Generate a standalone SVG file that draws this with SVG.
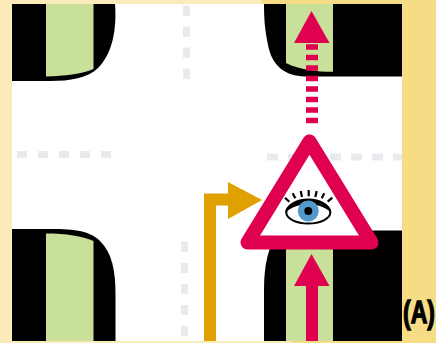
<svg xmlns="http://www.w3.org/2000/svg" width="436" height="343" viewBox="0 0 436 343">
<style>
.road{fill:#000}
.grass{fill:#C9E09A}
.lane{stroke:#E8EBEE;stroke-width:7;fill:none}
.red{fill:#E00050}
.redl{stroke:#E00050;fill:none}
.org{fill:#E0A000}
.lash{stroke:#000;stroke-width:2.200;stroke-linecap:butt}
</style>
<rect width="436" height="343" fill="#fff"/>
<g id="background">
<path d="M0 0H262V4H12V341H292V343H0Z" fill="#FAEBB8"/>
<path d="M262 0H436V343H292V341H402V4H262Z" fill="#F6DC85"/>
</g>
<g id="lanes">
<path class="lane" d="M186.500 5.500V16M186.500 26.500V37M186.500 47.500V58M186.500 68.500V79"/>
<path class="lane" d="M17 154.500H27M38 154.500H48M59 154.500H69M80 154.500H90M101 154.500H111"/>
<path class="lane" d="M267 157H278M288 157H299M330 157H341M351 157H362M372 157H383M393 157H402"/>
<path class="lane" d="M184.500 241.500V252M184.500 263V273M184.500 284V294M184.500 305V315M184.500 326V336"/>
</g>
<g id="corner-top-left">
<path class="road" d="M12 4H115C117 30 112 54 98 68C88 78 70 81 50 81H12Z"/>
<path class="grass" d="M46 4H93.500V69C82 74 64 76 46 76.500Z"/>
</g>
<g id="corner-top-right">
<path class="road" d="M264 4H402V76.500H305C285 76 272 66 268 45C265 30 264 20 264 4Z"/>
<path class="grass" d="M286 4H333V71.800C316 71.800 300 70 286 63Z"/>
</g>
<g id="corner-bottom-left">
<path class="road" d="M12 229H55C80 229 92 233 100 241C112 253 115.500 270 115.500 295V341H12Z"/>
<path class="grass" d="M46 233.500C66 233.500 82 236 93.500 241V341H46Z"/>
</g>
<g id="corner-bottom-right">
<path class="road" d="M402 230.500V341H264V290C264 265 268 245 280 230.500Z"/>
<path class="grass" d="M286 235H333V341H286Z"/>
</g>
<g id="connectors">
<path class="redl" stroke-width="12" stroke-dasharray="5.500 5" d="M312 123.200V44"/>
<path class="red" d="M311.500 11L329.500 43H294Z"/>
<path class="redl" stroke-width="12" d="M312 341V285"/>
<path class="red" d="M311.500 254L329.500 286H294Z"/>
<path d="M210 341V199.500H230" fill="none" stroke="#E0A000" stroke-width="12"/>
<path class="org" d="M228 182L262 200L228 219Z"/>
</g>
<g id="warning-sign">
<path d="M309.500 141.400L371.500 242.500H247.500Z" fill="#fff" stroke="#E00050" stroke-width="14" stroke-linejoin="round"/>
<g id="eye">
<ellipse cx="308.300" cy="212.500" rx="22" ry="11" fill="#fff" stroke="#000" stroke-width="2"/>
<path d="M285 213C286 204 296 198.500 308.300 198.500C320.500 198.500 330.500 204 331.500 213C326 207 317 204.500 308.300 204.500C299.500 204.500 290.500 207 285 213Z" fill="#000"/>
<circle cx="308.300" cy="211" r="10.500" fill="#5599CC"/>
<circle cx="308.300" cy="211" r="4" fill="#000"/>
<path class="lash" d="M285 197.700L289.300 201.700M292.700 193.300L295.300 198.300M300.700 191L302 197M308.700 190V196.300M316.700 191L315.300 197M324.300 193.300L321.700 198.300M332.300 197.700L327.700 201.700"/>
</g>
</g>
<text transform="translate(403 322.500) scale(0.72 1)" font-family="'Liberation Sans',sans-serif" font-weight="700" font-size="32" stroke="#000" stroke-width="1.300">(A)</text>
</svg>
